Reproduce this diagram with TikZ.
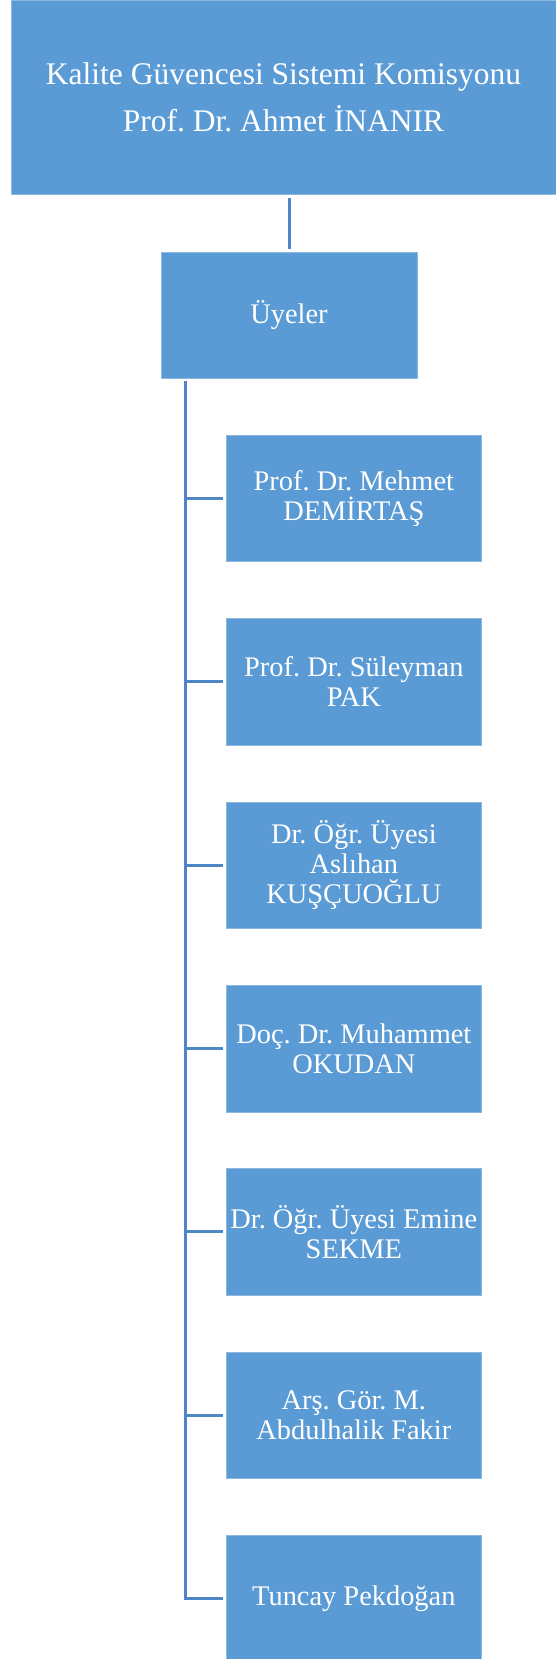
\documentclass[tikz,border=0pt]{standalone}
\usepackage{fontspec}
\setmainfont{Liberation Serif}
\usetikzlibrary{positioning}
\definecolor{boxblue}{RGB}{91,155,213}
\definecolor{lineblue}{RGB}{79,134,198}
\tikzset{
  box/.style={fill=boxblue, draw=boxblue!70!white, line width=0.6pt,
    inner sep=0pt, outer sep=0pt, text=white, align=center},
  member/.style={box, minimum width=255.7pt, minimum height=126.7pt,
    font=\fontsize{28.4}{30}\selectfont\frenchspacing},
  link/.style={draw=lineblue, line width=3pt}
}

\begin{document}
\begin{tikzpicture}[x=1pt,y=1pt,node distance=56.7pt]
    \useasboundingbox (0,0) rectangle (556,-1659);

    \node[box,minimum width=545pt,minimum height=194.5pt,
          font=\fontsize{31.5}{46.6}\selectfont\frenchspacing]
          (kom) at (283.5,-97.25) {Kalite Güvencesi Sistemi Komisyonu\\Prof. Dr. Ahmet İNANIR};
    \node[member,minimum width=256pt,minimum height=126pt] (uye) at (289,-315) {Üyeler};

    \node[member] (m1) at (353.85,-498.35) {Prof. Dr. Mehmet\\DEMİRTAŞ};
    \node[member] (m2) [below=of m1] {Prof. Dr. Süleyman\\PAK};
    \node[member] (m3) [below=of m2] {Dr. Öğr. Üyesi\\Aslıhan\\KUŞÇUOĞLU};
    \node[member] (m4) [below=of m3] {Doç. Dr. Muhammet\\OKUDAN};
    \node[member] (m5) [below=of m4] {Dr. Öğr. Üyesi Emine\\SEKME};
    \node[member] (m6) [below=of m5] {Arş. Gör. M.\\Abdulhalik Fakir};
    \node[member] (m7) [below=of m6] {Tuncay Pekdoğan};

    % connectors
    \coordinate (spine) at ([xshift=24.7pt,yshift=-3pt]uye.south west);
    \draw[link] ([yshift=3pt]uye.north) -- ([yshift=-3.5pt]uye.north |- kom.south);
    \draw[link] (spine) |- ([xshift=-3.3pt]m7.west);
    \foreach \m in {m1,m2,m3,m4,m5,m6}
        \draw[link] (spine |- \m.west) -- ([xshift=-3.3pt]\m.west);
\end{tikzpicture}
\end{document}
